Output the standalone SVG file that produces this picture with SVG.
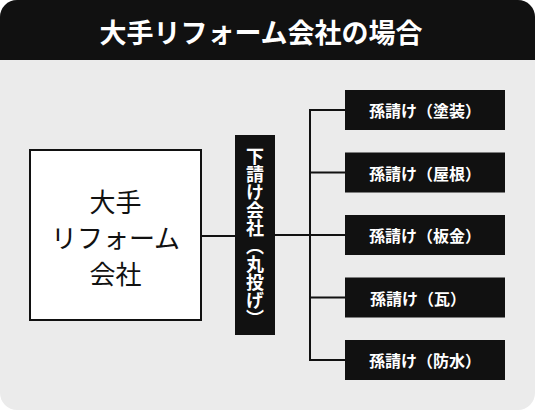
<svg xmlns="http://www.w3.org/2000/svg" width="535" height="410" viewBox="0 0 535 410">
  <style>
    .jp { font-family: "Noto Sans CJK JP", "Noto Sans", sans-serif; }
    .title { font-size: 27px; font-weight: bold; fill: #ffffff; }
    .main { font-size: 26px; font-weight: 400; fill: #111111; }
    .sub { font-size: 18px; font-weight: bold; fill: #ffffff; }
    .leaf { font-size: 16px; font-weight: bold; fill: #ffffff; }
    .dark { fill: #111111; }
    .line { stroke: #111111; stroke-width: 2; fill: none; }
  </style>
  <defs>
    <clipPath id="frame">
      <rect x="0" y="0" width="535" height="410" rx="17" ry="17"/>
    </clipPath>
  </defs>
  <g clip-path="url(#frame)">
    <rect x="0" y="0" width="535" height="410" fill="#ebebeb"/>
    <rect x="0" y="0" width="535" height="60" fill="#111111"/>
  </g>
  <text class="jp title" x="261" y="31" text-anchor="middle" dominant-baseline="central">大手リフォーム会社の場合</text>

  <g id="connectors">
    <line class="line" x1="201" y1="236" x2="235" y2="236"/>
    <line class="line" x1="275" y1="235" x2="310" y2="235"/>
    <line class="line" x1="310" y1="109" x2="310" y2="361"/>
    <line class="line" x1="309" y1="110" x2="345" y2="110"/>
    <line class="line" x1="309" y1="172.5" x2="345" y2="172.5"/>
    <line class="line" x1="309" y1="235" x2="345" y2="235"/>
    <line class="line" x1="309" y1="297.5" x2="345" y2="297.5"/>
    <line class="line" x1="309" y1="360" x2="345" y2="360"/>
  </g>

  <g id="main-company">
    <rect x="30" y="150" width="171" height="170" fill="#ffffff" stroke="#111111" stroke-width="2"/>
    <text class="jp main" x="115.5" y="200" text-anchor="middle" dominant-baseline="central">大手</text>
    <text class="jp main" x="115.5" y="236" text-anchor="middle" dominant-baseline="central">リフォーム</text>
    <text class="jp main" x="115.5" y="272" text-anchor="middle" dominant-baseline="central">会社</text>
  </g>

  <g id="subcontractor">
    <rect class="dark" x="235" y="135" width="40" height="200"/>
    <text class="jp sub" x="255" y="147" style="writing-mode: vertical-rl; text-orientation: mixed;">下請け会社（丸投げ）</text>
  </g>

  <g id="leaf-painting">
    <rect class="dark" x="345" y="90" width="160" height="40"/>
    <text class="jp leaf" x="425" y="110" text-anchor="middle" dominant-baseline="central">孫請け（塗装）</text>
  </g>
  <g id="leaf-roof">
    <rect class="dark" x="345" y="152.5" width="160" height="40"/>
    <text class="jp leaf" x="425" y="172.5" text-anchor="middle" dominant-baseline="central">孫請け（屋根）</text>
  </g>
  <g id="leaf-sheetmetal">
    <rect class="dark" x="345" y="215" width="160" height="40"/>
    <text class="jp leaf" x="425" y="235" text-anchor="middle" dominant-baseline="central">孫請け（板金）</text>
  </g>
  <g id="leaf-tile">
    <rect class="dark" x="345" y="277.5" width="160" height="40"/>
    <text class="jp leaf" x="418" y="297.5" text-anchor="middle" dominant-baseline="central">孫請け（瓦）</text>
  </g>
  <g id="leaf-waterproof">
    <rect class="dark" x="345" y="340" width="160" height="40"/>
    <text class="jp leaf" x="425" y="360" text-anchor="middle" dominant-baseline="central">孫請け（防水）</text>
  </g>
</svg>
